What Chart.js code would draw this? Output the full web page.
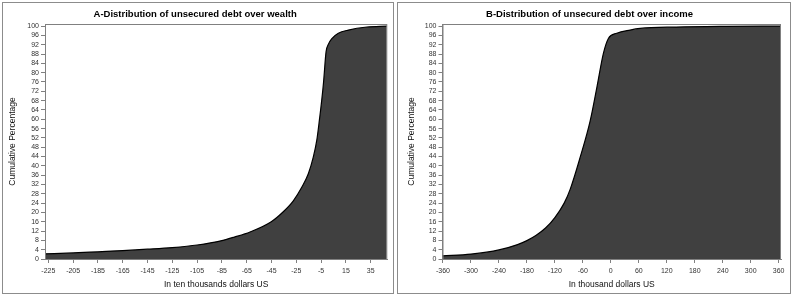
<!DOCTYPE html>
<html>
<head>
<meta charset="utf-8">
<script src="https://cdn.jsdelivr.net/npm/chart.js@4/dist/chart.umd.min.js"></script>
<style>
  body { margin: 0; background: #fff; width: 793px; height: 298px; position: relative; overflow: hidden; }
  .painel { position: absolute; border: 1px solid #8c8c8c; background: #fff; }
  canvas { display: block; }
</style>
</head>
<body>
<div class="painel" style="left:2px; top:2px; width:390px; height:290px;">
  <canvas id="graficoRiqueza" width="390" height="290"></canvas>
</div>
<div class="painel" style="left:397px; top:2px; width:392px; height:290px;">
  <canvas id="graficoRenda" width="392" height="290"></canvas>
</div>
<script>
// A - unsecured debt over wealth (ten thousands US$)
const riquezaX = [-228, -205, -185, -165, -145, -125, -105, -85, -75, -62.3, -45.2, -35.5, -27.4, -20.6, -15.3, -11.3, -8.5, -6.4, -4.5, -3, -1, 1, 3.5, 8.9, 17, 32, 48];
const riquezaPct = [2.2, 2.6, 3.1, 3.6, 4.2, 4.9, 6.0, 7.9, 9.4, 11.6, 16.0, 20.3, 25.0, 30.8, 36.6, 43.7, 50.9, 59.5, 68.1, 76, 88.9, 92.3, 94.5, 96.9, 98.3, 99.6, 100];
const riquezaTicks = [-225, -205, -185, -165, -145, -125, -105, -85, -65, -45, -25, -5, 15, 35];

// B - unsecured debt over income (thousand US$)
const rendaX = [-361, -300, -240, -200, -180, -160, -140, -120, -100, -87, -66, -44.4, -30, -15.9, -5.2, 12.8, 41.3, 62.8, 140, 248, 365];
const rendaPct = [1.3, 2.1, 3.9, 6.2, 7.9, 10.2, 13.3, 17.8, 24, 30, 43.5, 59.2, 73.6, 88.3, 94.7, 96.9, 98.3, 99.0, 99.6, 99.9, 100];
const rendaTicks = [-360, -300, -240, -180, -120, -60, 0, 60, 120, 180, 240, 300, 360];

const pctTicks = [0, 4, 8, 12, 16, 20, 24, 28, 32, 36, 40, 44, 48, 52, 56, 60, 64, 68, 72, 76, 80, 84, 88, 92, 96, 100];

Chart.defaults.font.family = "'Liberation Sans', Arial, sans-serif";
Chart.defaults.color = '#222';

const caixa = {
    id: 'caixa',
    afterDraw(chart) {
        const a = chart.chartArea;
        const ctx = chart.ctx;
        ctx.save();
        ctx.strokeStyle = '#808080';
        ctx.lineWidth = 1;
        ctx.strokeRect(a.left + 0.5, a.top + 0.5, a.right - a.left - 1, a.bottom - a.top);
        ctx.restore();
    }
};

function desenhar(id, xs, ys, xTicks, titulo, xTitulo, eixoY, dir, yTitPad, xMin, xMax) {
    new Chart(document.getElementById(id), {
        type: 'line',
        data: {
            datasets: [{
                data: xs.map((x, i) => ({ x: x, y: ys[i] })),
                borderColor: '#000',
                borderWidth: 1.2,
                backgroundColor: '#404040',
                fill: 'origin',
                pointRadius: 0,
                cubicInterpolationMode: 'monotone'
            }]
        },
        options: {
            responsive: false,
            animation: false,
            devicePixelRatio: 1,
            layout: { padding: { left: 0, right: dir, top: 0, bottom: 0 } },
            plugins: {
                legend: { display: false },
                tooltip: { enabled: false },
                title: {
                    display: true,
                    text: titulo,
                    color: '#000',
                    font: { size: 9.5, weight: 'bold' },
                    padding: { top: 6, bottom: 3.6 }
                }
            },
            scales: {
                x: {
                    type: 'linear',
                    min: xMin,
                    max: xMax,
                    afterBuildTicks: s => { s.ticks = xTicks.map(v => ({ value: v })); },
                    afterFit: s => { s.height = 34; },
                    ticks: { font: { size: 7 }, padding: 3.8, maxRotation: 0, autoSkip: false, color: '#333' },
                    grid: { drawOnChartArea: false, tickLength: 4, color: '#808080' },
                    border: { color: '#808080' },
                    title: { display: true, text: xTitulo, color: '#111', font: { size: 8.5 }, padding: { top: 0, bottom: 2.9 } }
                },
                y: {
                    min: 0,
                    max: 100.9,
                    afterBuildTicks: s => { s.ticks = pctTicks.map(v => ({ value: v })); },
                    afterFit: s => { s.width = eixoY; },
                    ticks: { font: { size: 7 }, padding: 2, autoSkip: false, color: '#333' },
                    grid: { drawOnChartArea: false, tickLength: 4, color: '#808080' },
                    border: { color: '#808080' },
                    title: { display: true, text: 'Cumulative Percentage', color: '#111', font: { size: 8.5 }, padding: { top: yTitPad, bottom: 0 } }
                }
            }
        },
        plugins: [caixa]
    });
}

desenhar('graficoRiqueza', riquezaX, riquezaPct, riquezaTicks,
    'A-Distribution of unsecured debt over wealth', 'In ten thousands dollars US', 42, 5.7, 4.9, -227.7, 48.4);
desenhar('graficoRenda', rendaX, rendaPct, rendaTicks,
    'B-Distribution of unsecured debt over income', 'In thousand dollars US', 44.5, 9, 8.4, -361, 365);
</script>
</body>
</html>
